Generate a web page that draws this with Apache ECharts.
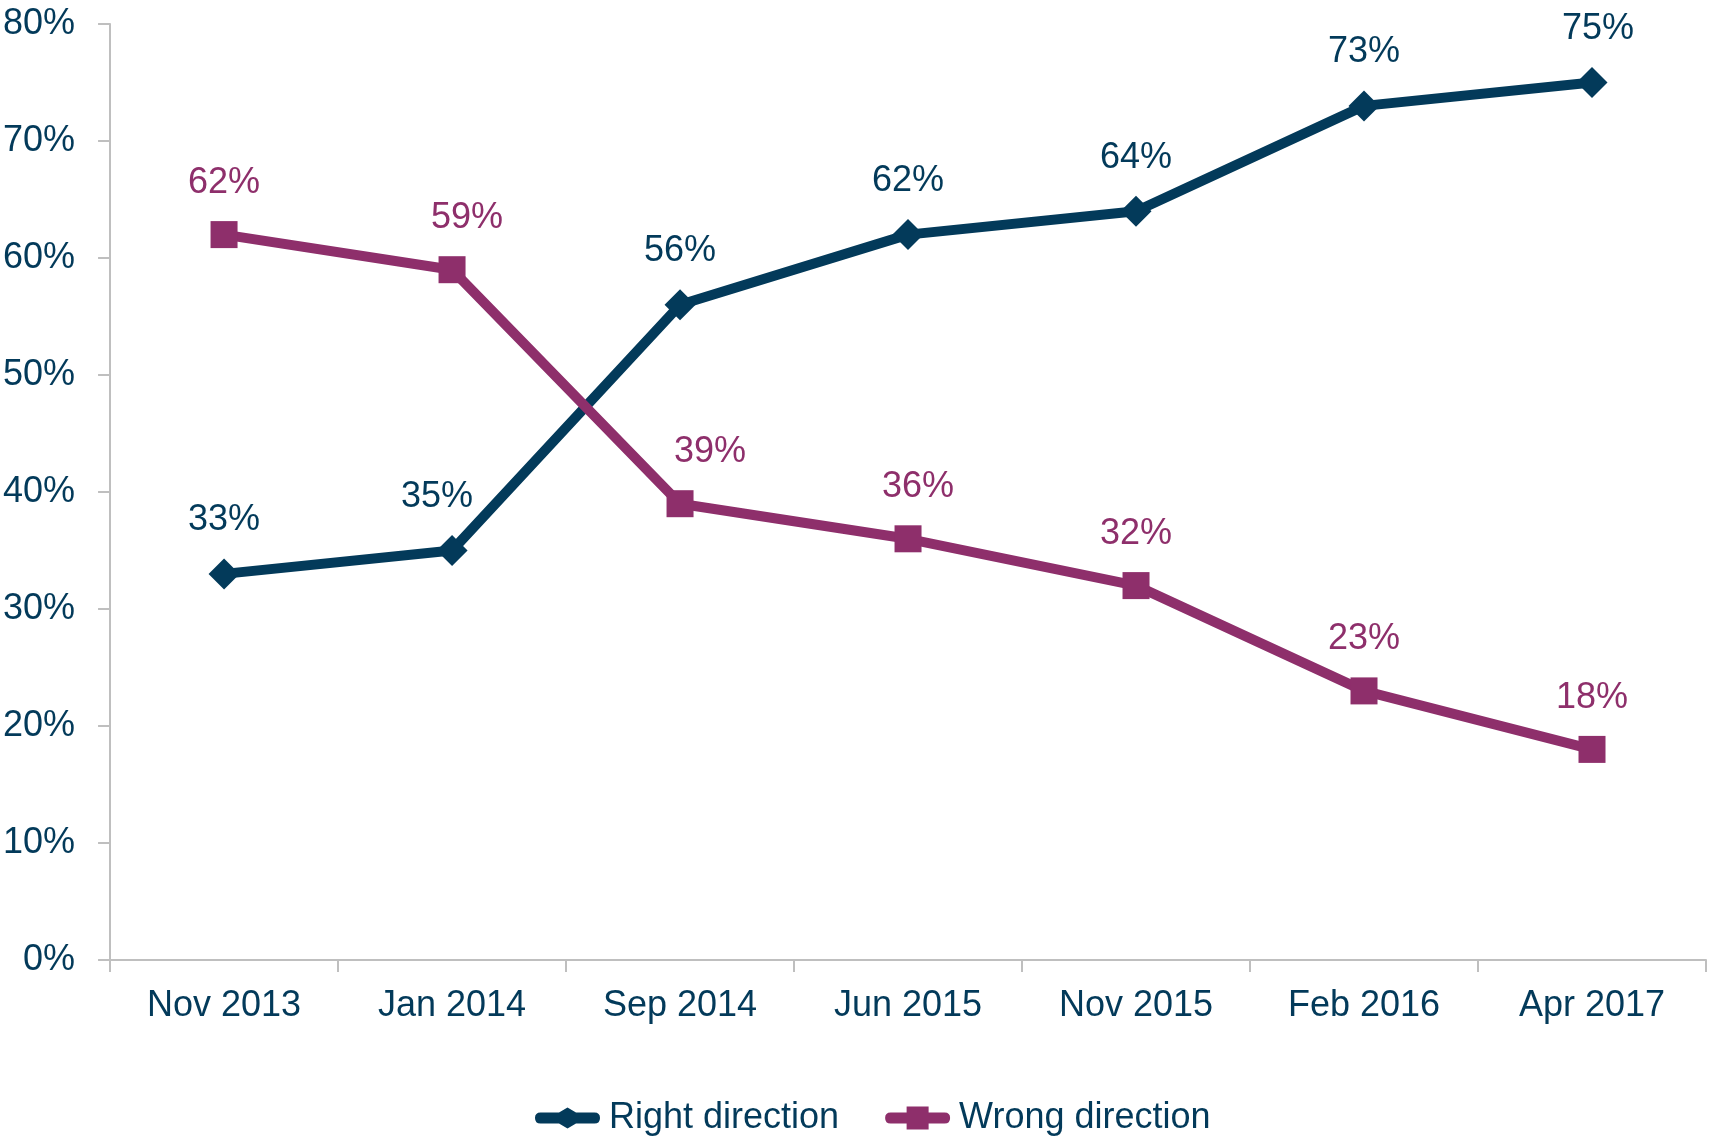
<!DOCTYPE html>
<html lang="en">
<head>
  <meta charset="UTF-8">
  <title>Right vs wrong direction</title>
  <style>
    html, body { margin: 0; padding: 0; background: #fff; }
    #chart { width: 1715px; height: 1138px; }
  </style>
</head>
<body>
  <div id="chart"></div>
  <script src="https://cdn.jsdelivr.net/npm/echarts@6/dist/echarts.min.js"></script>
  <script>
    var categories = ['Nov 2013', 'Jan 2014', 'Sep 2014', 'Jun 2015', 'Nov 2015', 'Feb 2016', 'Apr 2017'];
    var rightDirection = [33, 35, 56, 62, 64, 73, 75];
    var wrongDirection = [62, 59, 39, 36, 32, 23, 18];
    var yTicks = [0, 10, 20, 30, 40, 50, 60, 70, 80];

    var navy = '#033a5a';
    var plum = '#8e2f6b';
    var font = '"Liberation Sans", Arial, sans-serif';

    // a few labels in the original are nudged sideways
    var rightLabelShift = [0, -15, 0, 0, 0, 0, 6];
    var wrongLabelShift = [0, 15, 30, 10, 0, 0, 0];

    var rightIcon = 'path://M5.5 6.5 L24 6.5 L32.5 1.5 L41 6.5 L59.5 6.5 Q65 6.5 65 12 Q65 17.5 59.5 17.5 L41 17.5 L32.5 22.5 L24 17.5 L5.5 17.5 Q0 17.5 0 12 Q0 6.5 5.5 6.5 Z';
    var wrongIcon = 'path://M5.5 6.5 L21.5 6.5 L21.5 0.5 L43.5 0.5 L43.5 6.5 L59.5 6.5 Q65 6.5 65 12 Q65 17.5 59.5 17.5 L43.5 17.5 L43.5 23.5 L21.5 23.5 L21.5 17.5 L5.5 17.5 Q0 17.5 0 12 Q0 6.5 5.5 6.5 Z';

    var myChart = echarts.init(document.getElementById('chart'));

    function buildSeries(name, data, color, symbol, size, shifts) {
      return {
        name: name,
        type: 'line',
        symbol: symbol,
        symbolSize: size,
        lineStyle: { color: color, width: 10 },
        itemStyle: { color: color },
        label: {
          show: true,
          position: 'top',
          distance: 20,
          color: color,
          fontFamily: font,
          fontSize: 36,
          formatter: '{c}%'
        },
        data: data.map(function (v, i) {
          return { value: v, label: { offset: [shifts[i], 0] } };
        })
      };
    }

    var option = {
      animation: false,
      textStyle: { fontFamily: font },
      grid: { left: 107, right: 9, top: 24, bottom: 178 },
      legend: {
        top: 1100,
        left: 535,
        padding: 0,
        itemWidth: 65,
        itemHeight: 24,
        itemGap: 46,
        textStyle: { color: navy, fontSize: 36, fontFamily: font, padding: [0, 0, 0, 4] },
        data: [
          { name: 'Right direction', icon: rightIcon },
          { name: 'Wrong direction', icon: wrongIcon }
        ]
      },
      xAxis: {
        type: 'category',
        data: categories,
        boundaryGap: true,
        axisLine: { lineStyle: { color: '#bfbfbf', width: 2 } },
        axisTick: { show: true, length: 12, alignWithLabel: false, lineStyle: { color: '#bfbfbf', width: 2 } },
        axisLabel: { color: navy, fontSize: 36, fontFamily: font, margin: 28 }
      },
      yAxis: {
        type: 'value',
        min: yTicks[0],
        max: yTicks[yTicks.length - 1],
        interval: 10,
        splitLine: { show: false },
        axisLine: { show: true, lineStyle: { color: '#bfbfbf', width: 2 } },
        axisTick: { show: true, length: 12, lineStyle: { color: '#bfbfbf', width: 2 } },
        axisLabel: { color: navy, fontSize: 36, fontFamily: font, margin: 35, formatter: '{value}%' }
      },
      series: [
        buildSeries('Right direction', rightDirection, navy, 'diamond', 31, rightLabelShift),
        buildSeries('Wrong direction', wrongDirection, plum, 'rect', 27, wrongLabelShift)
      ]
    };
    myChart.setOption(option);
  </script>
</body>
</html>
